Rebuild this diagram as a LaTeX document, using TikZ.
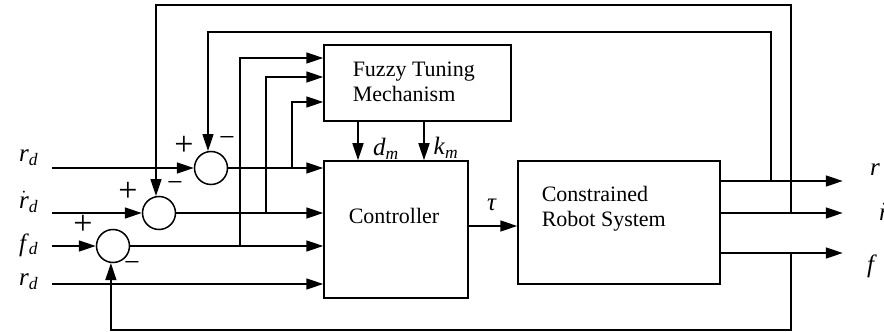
\documentclass[tikz,border=0pt]{standalone}
\usepackage{fontspec}
\setmainfont{Liberation Serif}
\usepackage{amsmath}
\usetikzlibrary{arrows.meta}

\newcommand{\sv}[2]{\textit{#1}\textsubscript{\textit{#2}}}

\begin{document}
\begin{tikzpicture}[x=1pt, y=1pt, line width=1.5pt,
	every node/.style={font=\fontsize{22}{25}\selectfont},
	>={Triangle[length=17pt, width=11pt]},
	blk/.style={draw, rectangle, inner sep=0pt},
	sumnode/.style={draw, circle, minimum size=33pt, inner sep=0pt},
	plus/.style={font=\fontsize{34}{36}\selectfont, inner sep=0pt},
	minus/.style={font=\fontsize{28}{30}\selectfont, inner sep=0pt},
	var/.style={font=\fontsize{25}{28}\selectfont, inner sep=1pt}]
	\useasboundingbox (0,0) rectangle (884,332);
	% blocks
	\node[blk, minimum width=187pt, minimum height=76pt] (fuzzy) at (417.5,249) {};
	\node[anchor=west, align=left, inner sep=0pt] (fuzzytxt) at (352,250) {Fuzzy Tuning\\Mechanism};
	\node[blk, minimum width=144pt, minimum height=137pt] (ctrl) at (396,102.5) {};
	\node[inner sep=0pt] (ctrltxt) at (394,116) {Controller};
	\node[blk, minimum width=202pt, minimum height=123pt] (robot) at (619,109.5) {};
	\node[anchor=west, align=left, inner sep=0pt] (robottxt) at (541,123) {Constrained\\Robot System};
	% summing junctions
	\node[sumnode] (s1) at (211,164) {};
	\node[sumnode] (s2) at (159,119) {};
	\node[sumnode] (s3) at (113,86) {};
	\node[plus] (p1) at (184,186) {+};
	\node[minus] (m1) at (227,190) {−};
	\node[plus] (p2) at (128,140) {+};
	\node[minus] (m2) at (175,145) {−};
	\node[plus] (p3) at (83,107) {+};
	\node[minus] (m3) at (132,65) {−};
	% input labels
	\node[var, anchor=east] (rd) at (40,174) {\sv{r}{d}};
	\node[var, anchor=east] (rdd) at (40,130) {$\dot{\textit{r}}$\textsubscript{\textit{d}}};
	\node[var, anchor=east] (fd) at (40,87) {\sv{f}{d}};
	\node[var, anchor=east] (rdb) at (40,50) {\sv{r}{d}};
	\coordinate (in1) at (52,164);
	\coordinate (in2) at (52,119);
	\coordinate (in3) at (52,86);
	\coordinate (in4) at (52,48);
	% inputs to junctions and controller
	\draw[->] (in1) -- (s1.west);
	\draw[->] (in2) -- (s2.west);
	\draw[->] (in3) -- (s3.west);
	\draw[->] (s1.east) -- (s1.east -| ctrl.west);
	\draw[->] (s2.east) -- (s2.east -| ctrl.west);
	\draw[->] (s3.east) -- (s3.east -| ctrl.west);
	\draw[->] (in4) -- (in4 -| ctrl.west);
	% branches to fuzzy tuning
	\coordinate (t1) at (292,164);
	\coordinate (t2) at (266,119);
	\coordinate (t3) at (240,86);
	\draw[->] (t1) |- ([yshift=-19pt]fuzzy.west);
	\draw[->] (t2) |- ([yshift=6pt]fuzzy.west);
	\draw[->] (t3) |- ([yshift=25pt]fuzzy.west);
	% tuned gains
	\draw[->] ([xshift=-59.5pt]fuzzy.south) -- ([xshift=-59.5pt]fuzzy.south |- ctrl.north);
	\draw[->] ([xshift=6.5pt]fuzzy.south) -- ([xshift=6.5pt]fuzzy.south |- ctrl.north);
	\node[var] (dm) at (386,183) {\sv{d}{m}};
	\node[var] (km) at (446,184) {\sv{k}{m}};
	% torque
	\draw[->] ([yshift=3.5pt]ctrl.east) -- ([yshift=3.5pt]ctrl.east -| robot.west);
	\node[var] (tau) at (492,127) {\textit{τ}};
	% outputs
	\coordinate (o1) at ([yshift=41.5pt]robot.east);
	\coordinate (o2) at ([yshift=9.5pt]robot.east);
	\coordinate (o3) at ([yshift=-30.5pt]robot.east);
	\draw[->] (o1) -- ++(122,0);
	\draw[->] (o2) -- ++(122,0);
	\draw[->] (o3) -- ++(122,0);
	\node[var] (yr) at (875,162) {\textit{r}};
	\node[var] (yrd) at (884,120) {$\dot{\textit{r}}$};
	\node[var] (yf) at (872,66) {\textit{f}};
	% feedback paths
	\coordinate (tapr) at (771,151);
	\coordinate (tapv) at (791,119);
	\coordinate (tapf) at (791,79);
	\draw[->] (tapr) -- ++(0,149) -| (s1.100);
	\draw[->] (tapv) -- ++(0,208) -| (s2.100);
	\draw[->] (tapf) -- ++(0,-77) -| (s3.263);
\end{tikzpicture}
\end{document}
